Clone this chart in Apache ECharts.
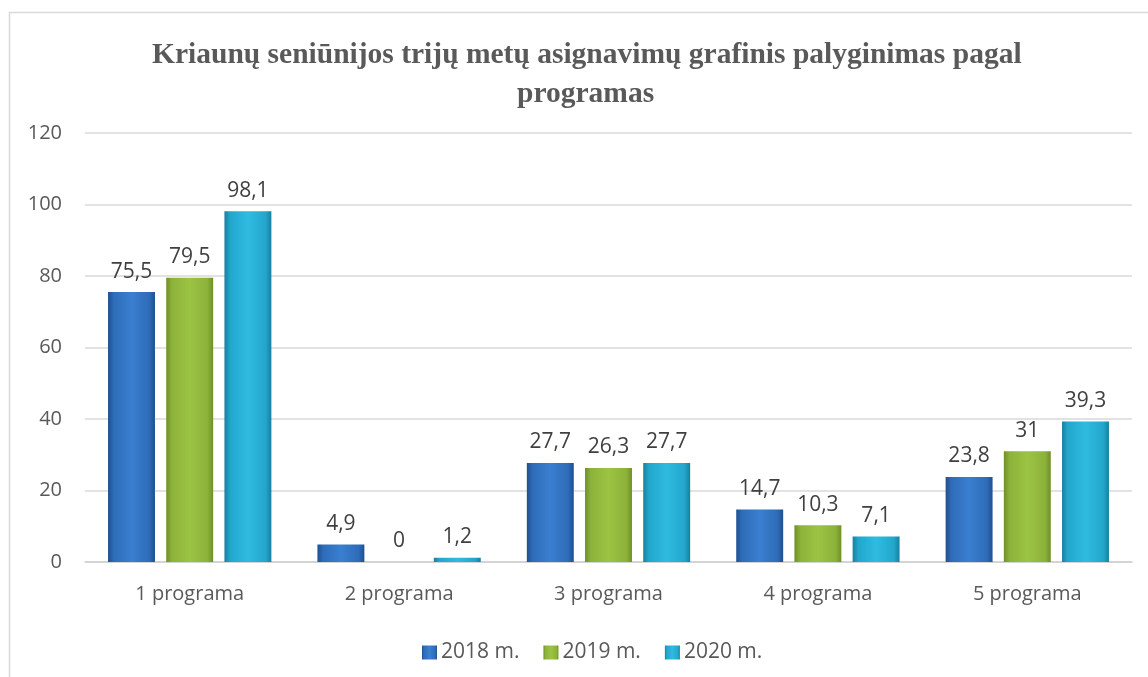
<!DOCTYPE html>
<html><head><meta charset="utf-8">
<script src="https://cdn.jsdelivr.net/npm/echarts@6/dist/echarts.min.js"></script>
<style>html,body{margin:0;padding:0;background:#fff}#c{width:1148px;height:677px}</style>
</head><body><div id="c"></div>
<script>
const categories = ['1 programa','2 programa','3 programa','4 programa','5 programa'];
const seriesNames = ['2018 m.','2019 m.','2020 m.'];
const v2018 = [75.5, 4.9, 27.7, 14.7, 23.8];
const v2019 = [79.5, 0, 26.3, 10.3, 31];
const v2020 = [98.1, 1.2, 27.7, 7.1, 39.3];
const titleLines = ['Kriaunų seniūnijos trijų metų asignavimų grafinis palyginimas pagal', 'programas'];

function grad(edge, mid, light){
  return new echarts.graphic.LinearGradient(0,0,1,0,[
    {offset:0,color:edge},{offset:0.12,color:mid},{offset:0.5,color:light},{offset:0.88,color:mid},{offset:1,color:edge}
  ]);
}
const colors = [
  grad('#1f4f8f','#2e6cb8','#3a7fd0'),
  grad('#6f8f25','#8cb23a','#9cc443'),
  grad('#17809f','#23a6cc','#2fbbe0')
];
const fmt = p => String(p.value).replace('.', ',');
function mk(name, data, c){
  return {name, type:'bar', data, itemStyle:{color:c},
    barGap:'24%', barCategoryGap:'22%',
    label:{show:true, position:'top', distance:10, formatter:fmt, color:'#404040', fontSize:21, fontFamily:'Open Sans'}};
}
const tStyle = {fontFamily:'Liberation Serif', fontWeight:'bold', fontSize:29.5, color:'#595959', lineHeight:39};
const chart = echarts.init(document.getElementById('c'));
chart.setOption({
  animation:false,
  backgroundColor:'#fff',
  graphic:[{type:'rect', shape:{x:9.5,y:12.5,width:1200,height:700}, style:{fill:'none', stroke:'#d9d9d9', lineWidth:1.5}, z:-1}],
  title:[
    {text:titleLines[0], left:147, top:31, textStyle:tStyle},
    {text:titleLines[1], left:512, top:70, textStyle:tStyle}
  ],
  legend:{top:637, left:417, itemWidth:15, itemHeight:14, itemGap:24, icon:'rect',
    textStyle:{fontFamily:'Open Sans', fontSize:21, color:'#595959', padding:[0,0,0,-1]}, data:seriesNames},
  grid:{left:85, right:16, top:133, bottom:115, containLabel:false},
  xAxis:{type:'category', data:categories, axisTick:{show:false},
    axisLine:{lineStyle:{color:'#d0d0d0', width:1.5}},
    axisLabel:{fontFamily:'Open Sans', fontSize:20, color:'#595959', margin:22}},
  yAxis:{type:'value', min:0, max:120, interval:20, axisLine:{show:false}, axisTick:{show:false},
    splitLine:{lineStyle:{color:'#d9d9d9', width:1.5}},
    axisLabel:{fontFamily:'Open Sans', fontSize:20, color:'#595959', margin:23}},
  series:[mk(seriesNames[0], v2018, colors[0]), mk(seriesNames[1], v2019, colors[1]), mk(seriesNames[2], v2020, colors[2])]
});
</script></body></html>
